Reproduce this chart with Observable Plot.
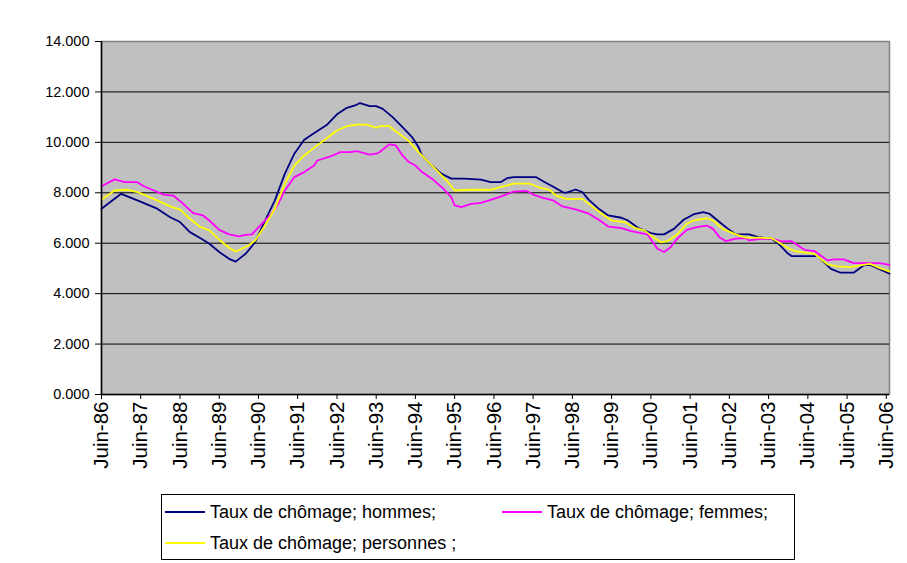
<!DOCTYPE html>
<html><head><meta charset="utf-8">
<script src="https://cdn.jsdelivr.net/npm/d3@7"></script>
<script src="https://cdn.jsdelivr.net/npm/@observablehq/plot@0.6"></script>
<style>
body{margin:0;background:#fff;font-family:"Liberation Sans",Arial,sans-serif;}
#wrap{position:relative;width:907px;height:563px;overflow:hidden;background:#fff;}
#chart{position:absolute;left:0;top:0;}
#legend{position:absolute;left:161px;top:494px;width:632px;height:64px;border:1px solid #000;background:#fff;}
.item{position:absolute;display:flex;align-items:center;font-size:18px;color:#000;white-space:nowrap;}
.swatch{display:inline-block;width:40px;height:2px;margin-right:5px;}
</style></head>
<body><div id="wrap"><div id="chart"></div><div id="legend"></div></div>
<script>
const seriesNames = ["Taux de chômage; hommes;", "Taux de chômage; femmes;", "Taux de chômage; personnes ;"];
const seriesColors = ["#000080", "#ff00ff", "#ffff00"];
const yTicks = [0, 2, 4, 6, 8, 10, 12, 14];
const xTickMonths = ["1986-06","1987-06","1988-06","1989-06","1990-06","1991-06","1992-06","1993-06","1994-06","1995-06","1996-06","1997-06","1998-06","1999-06","2000-06","2001-06","2002-06","2003-06","2004-06","2005-06","2006-06"];
const xTickLabels = ["Juin-86","Juin-87","Juin-88","Juin-89","Juin-90","Juin-91","Juin-92","Juin-93","Juin-94","Juin-95","Juin-96","Juin-97","Juin-98","Juin-99","Juin-00","Juin-01","Juin-02","Juin-03","Juin-04","Juin-05","Juin-06"];

const hommes = [["1986-06",7.37],["1986-12",7.96],["1987-05",7.70],["1987-11",7.37],["1988-03",7.03],["1988-06",6.84],["1988-09",6.44],["1988-12",6.22],["1989-03",5.98],["1989-06",5.65],["1989-09",5.38],["1989-11",5.27],["1990-02",5.58],["1990-05",6.04],["1990-08",6.90],["1990-11",7.70],["1991-02",8.75],["1991-05",9.55],["1991-08",10.10],["1991-12",10.45],["1992-03",10.70],["1992-06",11.11],["1992-09",11.37],["1992-12",11.49],["1993-01",11.56],["1993-04",11.44],["1993-06",11.44],["1993-08",11.33],["1993-11",11.00],["1994-02",10.60],["1994-05",10.21],["1994-07",9.81],["1994-08",9.48],["1994-11",9.08],["1995-02",8.75],["1995-05",8.56],["1995-09",8.56],["1996-02",8.52],["1996-05",8.42],["1996-08",8.42],["1996-10",8.58],["1996-12",8.62],["1997-07",8.62],["1997-09",8.46],["1997-12",8.25],["1998-03",8.03],["1998-04",8.00],["1998-07",8.13],["1998-09",8.03],["1998-11",7.72],["1999-02",7.37],["1999-05",7.10],["1999-09",7.01],["1999-11",6.90],["2000-02",6.61],["2000-06",6.40],["2000-08",6.35],["2000-10",6.35],["2001-01",6.57],["2001-04",6.93],["2001-07",7.14],["2001-10",7.23],["2001-12",7.16],["2002-03",6.84],["2002-06",6.53],["2002-08",6.35],["2002-12",6.35],["2003-03",6.24],["2003-07",6.18],["2003-09",5.98],["2003-12",5.58],["2004-01",5.49],["2004-09",5.49],["2005-01",4.98],["2005-04",4.83],["2005-08",4.83],["2005-11",5.12],["2006-01",5.14],["2006-07",4.79]];

const femmes = [["1986-06",8.26],["1986-10",8.53],["1987-01",8.42],["1987-05",8.42],["1987-07",8.26],["1987-10",8.09],["1988-01",7.93],["1988-04",7.89],["1988-07",7.56],["1988-10",7.19],["1989-01",7.10],["1989-03",6.90],["1989-06",6.53],["1989-09",6.35],["1989-12",6.27],["1990-02",6.33],["1990-04",6.35],["1990-07",6.77],["1990-10",7.17],["1990-12",7.56],["1991-02",8.09],["1991-05",8.62],["1991-08",8.82],["1991-11",9.08],["1991-12",9.28],["1992-04",9.44],["1992-07",9.61],["1992-10",9.61],["1992-12",9.65],["1993-04",9.51],["1993-06",9.55],["1993-07",9.61],["1993-10",9.92],["1993-12",9.88],["1994-02",9.48],["1994-04",9.22],["1994-06",9.08],["1994-08",8.82],["1994-11",8.56],["1995-02",8.22],["1995-05",7.83],["1995-06",7.50],["1995-08",7.43],["1995-11",7.56],["1996-02",7.60],["1996-05",7.72],["1996-08",7.85],["1996-12",8.05],["1997-04",8.07],["1997-06",7.93],["1997-09",7.80],["1997-12",7.70],["1998-03",7.46],["1998-06",7.37],["1998-08",7.30],["1998-11",7.17],["1999-02",6.93],["1999-05",6.66],["1999-09",6.60],["1999-12",6.48],["2000-03",6.40],["2000-05",6.35],["2000-06",6.15],["2000-08",5.78],["2000-10",5.65],["2000-12",5.84],["2001-02",6.18],["2001-05",6.53],["2001-08",6.64],["2001-11",6.70],["2002-01",6.57],["2002-03",6.24],["2002-05",6.08],["2002-08",6.18],["2002-11",6.20],["2002-12",6.11],["2003-03",6.16],["2003-07",6.18],["2003-10",6.07],["2004-01",6.08],["2004-05",5.74],["2004-08",5.69],["2004-12",5.32],["2005-02",5.36],["2005-05",5.36],["2005-08",5.21],["2006-04",5.21],["2006-07",5.14]];

const personnes = [["1986-06",7.72],["1986-10",8.09],["1987-02",8.12],["1987-05",8.03],["1987-08",7.87],["1987-11",7.70],["1988-03",7.46],["1988-06",7.33],["1988-09",6.97],["1988-12",6.66],["1989-03",6.51],["1989-06",6.14],["1989-09",5.82],["1989-11",5.67],["1990-03",5.91],["1990-05",6.11],["1990-08",6.70],["1990-11",7.37],["1991-02",8.36],["1991-05",9.08],["1991-08",9.48],["1991-12",9.88],["1992-03",10.17],["1992-06",10.47],["1992-09",10.64],["1992-12",10.70],["1993-03",10.70],["1993-06",10.58],["1993-07",10.64],["1993-10",10.64],["1994-01",10.34],["1994-04",10.05],["1994-07",9.61],["1994-10",9.22],["1995-01",8.82],["1995-04",8.42],["1995-06",8.09],["1995-11",8.12],["1996-05",8.12],["1996-08",8.22],["1996-12",8.36],["1997-05",8.36],["1997-08",8.20],["1997-11",8.12],["1998-01",7.89],["1998-04",7.76],["1998-09",7.76],["1998-12",7.46],["1999-03",7.17],["1999-06",6.90],["1999-10",6.84],["2000-01",6.61],["2000-04",6.51],["2000-06",6.31],["2000-09",6.04],["2000-11",6.08],["2001-02",6.35],["2001-05",6.77],["2001-07",6.90],["2001-11",6.99],["2002-01",6.90],["2002-04",6.57],["2002-08",6.35],["2002-11",6.22],["2003-03",6.22],["2003-07",6.20],["2003-09",6.04],["2003-12",5.80],["2004-02",5.69],["2004-08",5.58],["2004-12",5.16],["2005-03",5.08],["2005-07",5.05],["2005-10",5.12],["2006-01",5.18],["2006-04",5.01],["2006-07",4.88]];

const parse = d3.utcParse("%Y-%m");
const toRows = (arr, name) => arr.map(([d, v]) => ({date: parse(d), value: v, serie: name}));
const rows = [
  ...toRows(hommes, seriesNames[0]),
  ...toRows(femmes, seriesNames[1]),
  ...toRows(personnes, seriesNames[2])
];
const xTicks = xTickMonths.map(parse);
const labelOf = new Map(xTicks.map((d, i) => [+d, xTickLabels[i]]));
const xDomain = [parse("1986-06"), parse("2006-07")];

const chart = Plot.plot({
  width: 907, height: 490,
  marginLeft: 101, marginRight: 18, marginTop: 41, marginBottom: 96,
  style: {fontFamily: "'Liberation Sans', Arial, sans-serif", fontSize: "14px", color: "#000", background: "transparent", overflow: "visible"},
  x: {type: "utc", domain: xDomain},
  y: {domain: [0, 14]},
  color: {domain: seriesNames, range: seriesColors},
  marks: [
    Plot.frame({fill: "#c0c0c0", stroke: "#808080", strokeWidth: 1.5}),
    Plot.ruleY(yTicks.filter(v => v > 0 && v < 14), {stroke: "#000", strokeWidth: 1}),
    Plot.line(rows, {x: "date", y: "value", z: "serie", stroke: "serie", strokeWidth: 1.8, curve: "linear"}),
    Plot.ruleX([xDomain[0]], {stroke: "#000", strokeWidth: 1.5}),
    Plot.ruleY([0], {stroke: "#000", strokeWidth: 1.5}),
    Plot.axisY({ticks: yTicks, tickFormat: d => d.toFixed(3), tickSize: 6, tickPadding: 6, fontSize: 14.5, label: null, stroke: "#000", strokeOpacity: 1, fill: "#000"}),
    Plot.axisX({ticks: xTicks, tickFormat: d => labelOf.get(+d), tickRotate: -90, tickSize: 5, tickPadding: 2, fontSize: 20.5, label: null, stroke: "#000", strokeOpacity: 1, fill: "#000"})
  ]
});
document.getElementById("chart").appendChild(chart);

const legend = document.getElementById("legend");
const pos = [[3, 17], [340, 17], [3, 48]];
seriesNames.forEach((name, i) => {
  const it = document.createElement("div");
  it.className = "item";
  it.style.left = pos[i][0] + "px";
  it.style.top = (pos[i][1] - 11) + "px";
  it.style.height = "22px";
  const sw = document.createElement("span");
  sw.className = "swatch";
  sw.style.background = seriesColors[i];
  const tx = document.createElement("span");
  tx.textContent = name;
  it.appendChild(sw); it.appendChild(tx);
  legend.appendChild(it);
});
</script></body></html>
